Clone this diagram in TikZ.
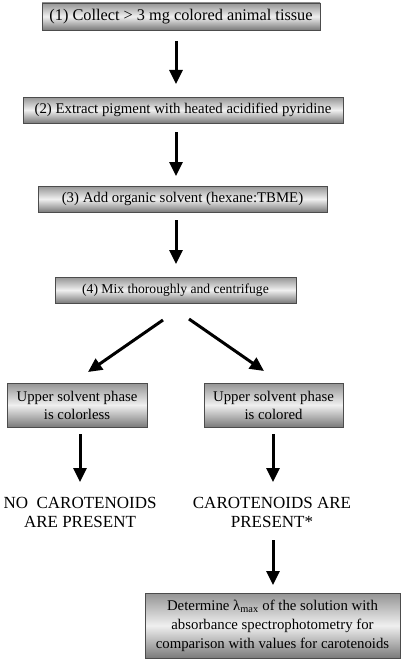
\documentclass[tikz,border=0pt]{standalone}
\usepackage{fontspec}
\setmainfont{Liberation Serif}
\usetikzlibrary{arrows.meta}

\begin{document}
\begin{tikzpicture}[x=1pt, y=-1pt,
    stepbox/.style={draw=black!70, line width=0.8pt, inner sep=0pt, align=center,
        top color=black!42, bottom color=black!52, middle color=black!6,
        font=\fontsize{14.5}{19}\selectfont},
    result_label/.style={align=center, font=\fontsize{17}{19.5}\selectfont},
    flow_arrow/.style={-{Triangle[length=14pt, width=13pt]}, line width=3pt, black}
]
    \useasboundingbox (0,0) rectangle (406,661);
    % Schritte
    \node[stepbox, minimum width=278pt, minimum height=27pt, font=\fontsize{16.3}{19}\selectfont] (collect) at (181,16.5) {(1) Collect > 3 mg colored animal tissue};
    \node[stepbox, minimum width=320pt, minimum height=26pt, font=\fontsize{14.8}{19}\selectfont] (extract) at (183,110) {(2) Extract pigment with heated acidified pyridine};
    \node[stepbox, minimum width=289pt, minimum height=26pt, font=\fontsize{14.8}{19}\selectfont] (solvent) at (182.5,199) {(3) Add organic solvent (hexane:TBME)};
    \node[stepbox, minimum width=241pt, minimum height=26pt, font=\fontsize{13.6}{19}\selectfont] (mix) at (175.5,290) {(4) Mix thoroughly and centrifuge};
    \node[stepbox, minimum width=140pt, minimum height=44pt, font=\fontsize{14.8}{18}\selectfont] (colorless) at (77,405) {Upper solvent phase\\is colorless};
    \node[stepbox, minimum width=139pt, minimum height=44pt, font=\fontsize{14.8}{18}\selectfont] (colored) at (273.5,405) {Upper solvent phase\\is colored};
    % Ergebnisse
    \node[result_label] (absent) at (80,512.5) {NO\ \ CAROTENOIDS\\ARE PRESENT};
    \node[result_label] (present) at (272,512.5) {CAROTENOIDS ARE\\PRESENT*};
    \node[stepbox, minimum width=255pt, minimum height=65pt, font=\fontsize{14.8}{19}\selectfont] (lambda) at (272.5,625.5) {Determine λ\textsubscript{max} of the solution with\\absorbance spectrophotometry for\\comparison with values for carotenoids};
    % Pfeile
    \draw[flow_arrow] (176,41) -- (176,84);
    \draw[flow_arrow] (176,132) -- (176,176);
    \draw[flow_arrow] (176,220) -- (176,264);
    \draw[flow_arrow] (163,320) -- (88,372);
    \draw[flow_arrow] (189,319) -- (264,371);
    \draw[flow_arrow] (80,434) -- (80,482);
    \draw[flow_arrow] (273,434) -- (273,482);
    \draw[flow_arrow] (273,540) -- (273,585);
\end{tikzpicture}
\end{document}
